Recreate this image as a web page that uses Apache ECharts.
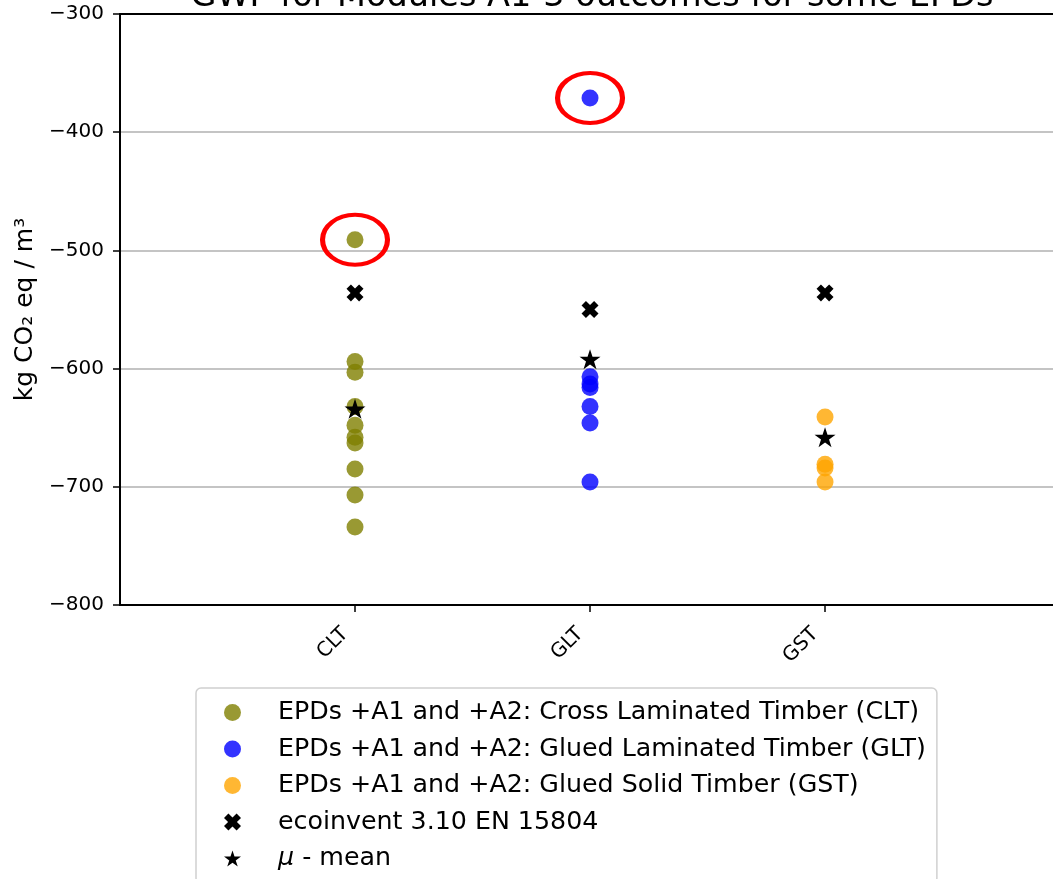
<!DOCTYPE html>
<html>
<head>
<meta charset="utf-8">
<script src="https://cdn.jsdelivr.net/npm/echarts@6/dist/echarts.min.js"></script>
<style>html,body{margin:0;padding:0;background:#fff;}#c{width:1053px;height:879px;}</style>
</head>
<body>
<div id="c"></div>
<script>
const titleText = 'GWP for Modules A1-3 outcomes for some EPDs';
const categories = ['CLT', 'GLT', 'GST'];
const yTicks = [-800, -700, -600, -500, -400, -300];
const cltValues = [-491, -594, -603, -632, -648, -658, -663, -685, -707, -734];
const gltValues = [-371, -607, -613, -616, -632, -646, -696];
const gstValues = [-641, -681, -684, -696];
const ecoinventValues = [-536, -550, -536];
const meanValues = [-634, -592, -658];
const outlierIdx = [[0, 0], [1, 0]]; // [category, index of value in that series]
const legendNames = [
  'EPDs +A1 and +A2: Cross Laminated Timber (CLT)',
  'EPDs +A1 and +A2: Glued Laminated Timber (GLT)',
  'EPDs +A1 and +A2: Glued Solid Timber (GST)',
  'ecoinvent 3.10 EN 15804',
  'μ - mean'
];

const FONT = 'DejaVu Sans';
const xPath = 'path://M2.6 0 L5 2.4 L7.4 0 L10 2.6 L7.6 5 L10 7.4 L7.4 10 L5 7.6 L2.6 10 L0 7.4 L2.4 5 L0 2.6 Z';
const starPath = 'path://M50 0 L61.23 34.55 L97.55 34.55 L68.16 55.9 L79.39 90.45 L50 69.1 L20.61 90.45 L31.84 55.9 L2.45 34.55 L38.77 34.55 Z';

const groups = [cltValues, gltValues, gstValues];
const outliers = outlierIdx.map(([c, i]) => [c, groups[c][i]]);
const X_MIN = -1, X_MAX = 2.97;
const tickIdx = categories.map((c, i) => i);

const chart = echarts.init(document.getElementById('c'));
chart.setOption({
  animation: false,
  textStyle: { fontFamily: FONT },
  title: {
    text: titleText, left: 587, top: -25, textAlign: 'center',
    textStyle: { fontFamily: FONT, fontSize: 33.5, fontWeight: 'normal', color: '#000' }
  },
  grid: { left: 120, top: 14, right: 0, bottom: 274, containLabel: false },
  xAxis: [{
    type: 'value', min: X_MIN, max: X_MAX, position: 'bottom',
    axisLine: { show: true, onZero: false, lineStyle: { color: '#000', width: 2 } },
    axisTick: { show: true, length: 7, customValues: tickIdx, lineStyle: { color: '#000', width: 1.5 } },
    axisLabel: { customValues: tickIdx, formatter: v => categories[Math.round(v)] || '', rotate: 45, fontSize: 20, color: '#000', margin: 16, padding: [0, 14, 0, 0], fontFamily: FONT },
    splitLine: { show: false }
  }, {
    type: 'value', min: X_MIN, max: X_MAX, position: 'top',
    axisLine: { show: true, onZero: false, lineStyle: { color: '#000', width: 2 } },
    axisTick: { show: false }, axisLabel: { show: false }, splitLine: { show: false }
  }],
  yAxis: {
    type: 'value', min: yTicks[0], max: yTicks[yTicks.length - 1], interval: 100,
    name: 'kg CO₂ eq / m³', nameLocation: 'middle', nameGap: 74, nameRotate: 90,
    nameTextStyle: { fontSize: 25, color: '#000', fontFamily: FONT },
    axisLine: { show: true, onZero: false, lineStyle: { color: '#000', width: 2 } },
    axisTick: { show: true, length: 7, lineStyle: { color: '#000', width: 1.5 } },
    axisLabel: { fontSize: 20, color: '#000', margin: 16, fontFamily: FONT, formatter: v => String(v).replace('-', '\u2212') },
    splitLine: { show: true, lineStyle: { color: '#b0b0b0', width: 1.5 } }
  },
  legend: {
    orient: 'vertical', left: 196, top: 688, height: 400,
    padding: [12, 11, 12, 28],
    data: [
      { name: legendNames[0], icon: 'circle' },
      { name: legendNames[1], icon: 'circle' },
      { name: legendNames[2], icon: 'circle' },
      { name: legendNames[3], icon: xPath },
      { name: legendNames[4], icon: starPath }
    ],
    itemWidth: 17, itemHeight: 17, itemGap: 11.5, symbolKeepAspect: true,
    borderColor: '#d0d0d0', borderWidth: 1.5, borderRadius: 5,
    backgroundColor: '#fff',
    formatter: n => n === 'μ - mean' ? '{i|μ} - mean' : n,
    textStyle: {
      fontSize: 25.3, color: '#000', lineHeight: 25, fontFamily: FONT, padding: [0, 0, 0, 32],
      rich: { i: { fontStyle: 'italic', fontSize: 25.3, fontFamily: FONT, color: '#000' } }
    }
  },
  series: [
    { name: legendNames[0], type: 'scatter', symbol: 'circle', symbolSize: 17,
      itemStyle: { color: '#808000', opacity: 0.8 }, data: cltValues.map(v => [0, v]) },
    { name: legendNames[1], type: 'scatter', symbol: 'circle', symbolSize: 17,
      itemStyle: { color: '#0000ff', opacity: 0.8 }, data: gltValues.map(v => [1, v]) },
    { name: legendNames[2], type: 'scatter', symbol: 'circle', symbolSize: 17,
      itemStyle: { color: '#ffa500', opacity: 0.8 }, data: gstValues.map(v => [2, v]) },
    { name: legendNames[3], type: 'scatter', symbol: xPath, symbolSize: 17, symbolKeepAspect: true, z: 3,
      itemStyle: { color: '#000', opacity: 1 }, data: ecoinventValues.map((v, i) => [i, v]) },
    { name: legendNames[4], type: 'scatter', symbol: starPath, symbolSize: 21, symbolKeepAspect: true, z: 4,
      itemStyle: { color: '#000', opacity: 1 }, data: meanValues.map((v, i) => [i, v]) },
    { name: 'outliers', type: 'scatter', symbol: 'circle', symbolSize: [65, 50], z: 5, silent: true,
      itemStyle: { color: 'rgba(0,0,0,0)', borderColor: '#ff0000', borderWidth: 4.5, opacity: 1 }, data: outliers }
  ]
});
</script>
</body>
</html>
